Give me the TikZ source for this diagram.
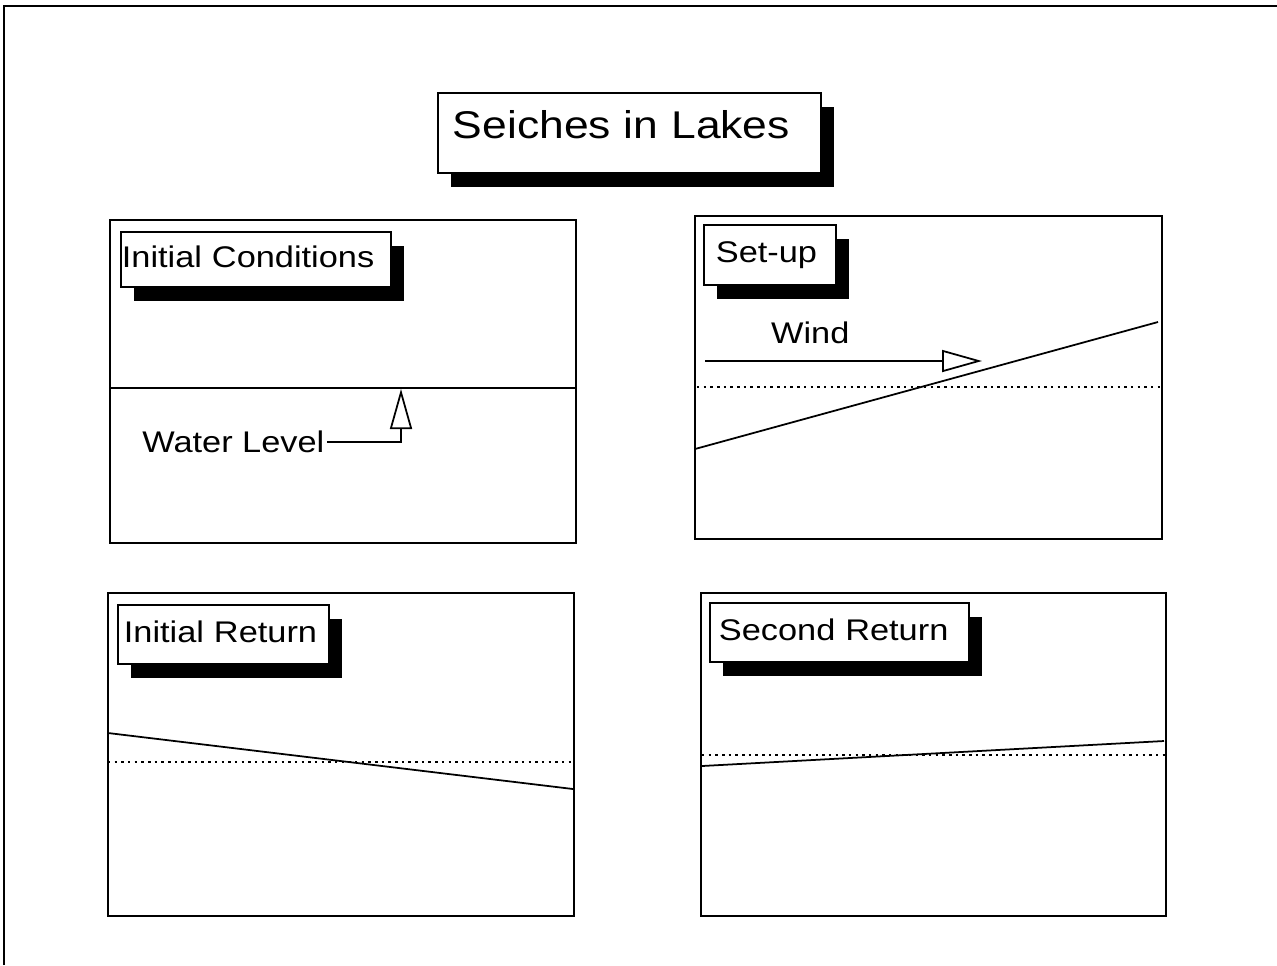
\documentclass[tikz,border=0pt]{standalone}
\usepackage{fontspec}
\usepackage{tikz}
\usetikzlibrary{positioning, arrows.meta, shadows}
\newfontfamily\boxfont[FakeStretch=1.15]{Liberation Sans}
\tikzset{
  every path/.style={line width=1pt},
  tag/.style={draw, fill=white, anchor=north west, align=left, inner ysep=0pt,
    text depth=0.12cm, font=\boxfont\fontsize{17}{20}\selectfont,
    general shadow={fill=black, shadow xshift=0.26cm, shadow yshift=-0.28cm}},
  plain/.style={font=\boxfont\fontsize{17}{20}\selectfont, inner sep=1pt},
  openarrow/.style={-{Triangle[open, length=0.8cm, width=0.44cm]}},
  level/.style={dash pattern=on 1.4pt off 2.4pt},
}

\begin{document}
\begin{tikzpicture}[x=0.02cm, y=-0.02cm]
      \useasboundingbox (0,0) rectangle (1277,965);
      \draw (4,965) -- (4,6) -- (1277,6);

      \draw (110,220) rectangle (576,543);
      \draw (695,216) rectangle (1162,539);
      \draw (108,593) rectangle (574,916);
      \draw (701,593) rectangle (1166,916);

      \draw (110,388) -- (576,388);
      \draw[level] (697,387) -- (1160,387);
      \draw (695,449) -- (1158,322);
      \draw[level] (108,762) -- (573,762);
      \draw (108,733) -- (573,789);
      \draw[level] (702,755) -- (1165,755);
      \draw (702,766) -- (1164,741);

      \node[tag, inner xsep=0.3cm, text width=7.06cm, minimum height=1.6cm, text depth=0.34cm,
        font=\boxfont\fontsize{22}{26}\selectfont] (title) at (437,92) {Seiches in Lakes};
      \node[tag, inner xsep=0.02cm, text width=5.36cm, minimum height=1.1cm] (lab1) at (120,231) {Initial Conditions};
      \node[tag, inner xsep=0.24cm, text width=2.16cm, minimum height=1.2cm] (lab2) at (703,224) {Set-up};
      \node[tag, inner xsep=0.12cm, text width=3.98cm, minimum height=1.18cm] (lab3) at (117,604) {Initial Return};
      \node[tag, inner xsep=0.18cm, text width=4.82cm, minimum height=1.18cm] (lab4) at (709,602) {Second Return};

      \node[plain, anchor=east] (level) at (327,442) {Water Level};
      \coordinate (surface) at (401,389);
      \draw[openarrow] (level.east) -| (surface);

      \coordinate (windtail) at (705,361);
      \coordinate (windhead) at (982,361);
      \draw[openarrow] (windtail) -- node[plain, pos=0.38, above=0.3cm] (wind) {Wind} (windhead);
    \end{tikzpicture}
\end{document}
